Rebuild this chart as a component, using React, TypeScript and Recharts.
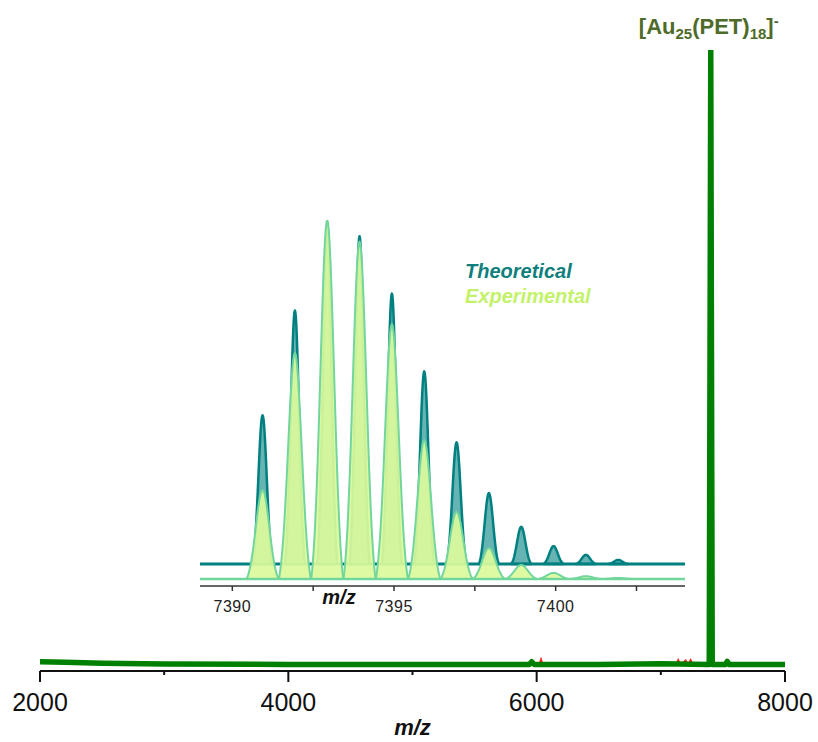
import {
  Bar,
  ComposedChart,
  Legend,
  Line,
  LineChart,
  ReferenceDot,
  ReferenceLine,
  XAxis,
  YAxis,
} from "recharts";

const FONT = '"Liberation Sans", Arial, Helvetica, sans-serif';

// Full-range spectrum (relative intensity, %)
const surveyMz = [2000, 2200, 2500, 3000, 4000, 5000, 5940, 5960, 5980, 6500, 7000, 7390, 7402, 7414, 7520, 7535, 7550, 8000];
const surveyInt = [0.45, 0.35, 0.2, 0.08, 0, 0, 0, 0.45, 0, 0, 0.1, 0, 100, 0, 0, 0.5, 0, 0];

// Second trace, mostly hidden under the main one
const traceMz = [5900, 6020, 6035, 6050, 7120, 7140, 7160, 7200, 7220, 7240, 7260, 7280, 8000];
const traceInt = [0, 0, 0.9, 0, 0, 0.8, 0, 0.7, 0, 0.8, 0, 0, 0];

const surveyTicks = [2000, 3000, 4000, 5000, 6000, 7000, 8000];

// Isotope envelope of the molecular ion
const isoMz = [7390.94, 7391.94, 7392.94, 7393.94, 7394.94, 7395.94, 7396.94, 7397.94, 7398.94, 7399.94, 7400.94, 7401.94];
const theoInt = [44, 75, 100, 97, 80, 57, 36, 21, 11, 5.3, 2.7, 1.2];
const expInt = [24.8, 63, 100, 94, 71, 38.7, 18.7, 8.6, 3.9, 1.7, 0.8, 0.3];

const isoTicks = [7390, 7392.5, 7395, 7397.5, 7400, 7402.5];
const isoSeries = ["Theoretical", "Experimental"];
const isoColors = ["#0f7f7e", "#c3f26a"];

const surveyData = surveyMz.map((mz, i) => ({ mz, v: surveyInt[i] }));
const traceData = traceMz.map((mz, i) => ({ mz, v: traceInt[i] }));
const isoData = isoMz.map((mz, i) => ({ mz, theo: theoInt[i], exp: expInt[i] }));

const TEAL = "#008080";
const MINT = "#72d69c";
const LIME_FILL = "#dbfb9c";

// Gaussian-style peak drawn over the bar rectangle Recharts hands over
function peakShape(sigma: number, half: number, fill: string, fillOpacity: number, stroke: string, strokeWidth: number) {
  return (props: any) => {
    const { x, y, width, height } = props;
    if (height == null || !isFinite(height) || height <= 0) return <g />;
    const cx = x + width / 2;
    const base = y + height;
    const e0 = Math.exp(-(half * half) / (2 * sigma * sigma));
    const n = 20;
    let d = `M${cx - half},${base}`;
    for (let i = 0; i <= 2 * n; i++) {
      const dx = -half + (half * i) / n;
      const g = (Math.exp(-(dx * dx) / (2 * sigma * sigma)) - e0) / (1 - e0);
      d += ` L${cx + dx},${base - height * g}`;
    }
    d += " Z";
    return (
      <path
        d={d}
        fill={fill}
        fillOpacity={fillOpacity}
        stroke={stroke}
        strokeWidth={strokeWidth}
        strokeLinejoin="round"
      />
    );
  };
}

const theoShape = peakShape(4.2, 10, TEAL, 0.6, TEAL, 2.5);
const expShape = peakShape(6.8, 16, LIME_FILL, 0.92, MINT, 2);

function SurveyTick({ x, y, payload }: any) {
  const v = payload.value as number;
  const major = v % 2000 === 0;
  return (
    <g>
      <line x1={x} x2={x} y1={y} y2={y + (major ? 11 : 4)} stroke="#111" strokeWidth={2} />
      {major && (
        <text x={x} y={y + 40} textAnchor="middle" fontSize={25} fill="#111" fontFamily={FONT}>
          {v}
        </text>
      )}
    </g>
  );
}

function IsoTick({ x, y, payload }: any) {
  const v = payload.value as number;
  const major = v % 5 === 0;
  return (
    <g>
      <line x1={x} x2={x} y1={y} y2={y + 5} stroke="#333" strokeWidth={1.5} />
      {major && (
        <text x={x} y={y + 26} textAnchor="middle" fontSize={16} fill="#222" fontFamily={FONT} letterSpacing={0.5}>
          {v}
        </text>
      )}
    </g>
  );
}

function IsoAxisLabel({ viewBox }: any) {
  if (!viewBox) return null;
  return (
    <text
      x={viewBox.x + 139}
      y={viewBox.y + 18}
      textAnchor="middle"
      fontSize={20}
      fontWeight={700}
      fontStyle="italic"
      fill="#111"
      fontFamily={FONT}
    >
      m/z
    </text>
  );
}

function IonLabel({ viewBox }: any) {
  if (!viewBox) return null;
  const cx = viewBox.x + viewBox.width / 2;
  const cy = viewBox.y + viewBox.height / 2;
  return (
    <text x={cx - 2} y={cy - 16} textAnchor="middle" fontSize={22} fontWeight={700} fill="#4e6b29" fontFamily={FONT}>
      [Au
      <tspan fontSize={15} dy={5}>25</tspan>
      <tspan dy={-5}>(PET)</tspan>
      <tspan fontSize={15} dy={5}>18</tspan>
      <tspan dy={-5}>]</tspan>
      <tspan fontSize={15} dy={-8}>-</tspan>
    </text>
  );
}

// Both series are named here; the teal one lives in the chart layer underneath
function IsoLegend() {
  return (
    <div
      style={{
        fontFamily: FONT,
        fontWeight: 700,
        fontStyle: "italic",
        fontSize: 20,
        lineHeight: "25px",
        textAlign: "left",
      }}
    >
      {isoSeries.map((name, i) => (
        <div key={name} style={{ color: isoColors[i] }}>
          {name}
        </div>
      ))}
    </div>
  );
}

const INSET_MARGIN = { top: 220, right: 133, left: 200 };

export default function App() {
  return (
    <div
      style={{
        position: "absolute",
        left: 0,
        top: 0,
        width: 818,
        height: 742,
        background: "#fff",
        fontFamily: FONT,
      }}
    >
      <div style={{ position: "absolute", left: 0, top: 0 }}>
        <LineChart width={818} height={742} margin={{ top: 50, right: 33, left: 40, bottom: 0 }}>
          <XAxis
            dataKey="mz"
            type="number"
            domain={[2000, 8000]}
            ticks={surveyTicks}
            interval={0}
            height={71}
            tickSize={0}
            tickMargin={0}
            tickLine={false}
            axisLine={{ stroke: "#111", strokeWidth: 2 }}
            tick={SurveyTick}
            allowDataOverflow
            label={{
              value: "m/z",
              position: "insideBottom",
              offset: 7,
              fontSize: 22,
              fontWeight: 700,
              fontStyle: "italic",
              fill: "#111",
            }}
          />
          <YAxis hide type="number" domain={[-1.06, 100]} allowDataOverflow />
          <Line
            data={traceData}
            dataKey="v"
            type="linear"
            stroke="#ff2020"
            strokeWidth={1.5}
            dot={false}
            activeDot={false}
            isAnimationActive={false}
          />
          <Line
            data={surveyData}
            dataKey="v"
            type="linear"
            stroke="#008000"
            strokeWidth={5.5}
            strokeLinejoin="round"
            dot={false}
            activeDot={false}
            isAnimationActive={false}
          />
          <ReferenceDot x={7402} y={100} r={0} fill="none" stroke="none" label={IonLabel} />
        </LineChart>
      </div>

      {/* theoretical pattern, drawn first so the experimental peaks sit on top */}
      <div style={{ position: "absolute", left: 0, top: 0 }}>
        <ComposedChart width={818} height={742} data={isoData} margin={{ ...INSET_MARGIN, bottom: 156 }}>
          <XAxis dataKey="mz" type="number" domain={[7389, 7404]} hide allowDataOverflow />
          <YAxis hide type="number" domain={[-6.51, 101.78]} allowDataOverflow />
          <ReferenceLine y={0} stroke={TEAL} strokeWidth={3} />
          <Bar dataKey="theo" name="Theoretical" fill={isoColors[0]} barSize={10} shape={theoShape} isAnimationActive={false} />
        </ComposedChart>
      </div>

      <div style={{ position: "absolute", left: 0, top: 0 }}>
        <ComposedChart width={818} height={742} data={isoData} margin={{ ...INSET_MARGIN, bottom: 126 }}>
          <XAxis
            dataKey="mz"
            type="number"
            domain={[7389, 7404]}
            ticks={isoTicks}
            interval={0}
            height={30}
            tickSize={0}
            tickMargin={0}
            tickLine={false}
            axisLine={{ stroke: "#333", strokeWidth: 1.5 }}
            tick={IsoTick}
            allowDataOverflow
            label={IsoAxisLabel}
          />
          <YAxis hide type="number" domain={[-1.95, 100]} allowDataOverflow />
          <Legend
            layout="horizontal"
            verticalAlign="middle"
            align="center"
            wrapperStyle={{ left: 465, top: 259, width: 220 }}
            content={IsoLegend}
          />
          <ReferenceLine y={0} stroke={MINT} strokeWidth={2.5} />
          <Bar dataKey="exp" name="Experimental" fill={isoColors[1]} barSize={10} shape={expShape} isAnimationActive={false} />
        </ComposedChart>
      </div>
    </div>
  );
}
